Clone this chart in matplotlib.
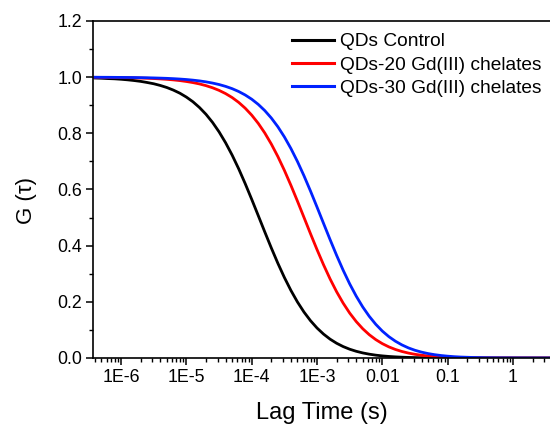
import matplotlib
matplotlib.use("Agg")
import matplotlib.pyplot as plt
from matplotlib.ticker import FixedLocator, LogLocator, NullFormatter, MultipleLocator

plt.rcParams['font.family'] = ['Liberation Sans', 'DejaVu Sans']

# log10 of lag time (s)
log_lag = [-6.4, -6.3, -6.2, -6.1, -6.0, -5.9, -5.8, -5.7, -5.6, -5.5, -5.4, -5.3,
           -5.2, -5.1, -5.0, -4.9, -4.8, -4.7, -4.6, -4.5, -4.4, -4.3, -4.2, -4.1,
           -4.0, -3.9, -3.8, -3.7, -3.6, -3.5, -3.4, -3.3, -3.2, -3.1, -3.0, -2.9,
           -2.8, -2.7, -2.6, -2.5, -2.4, -2.3, -2.2, -2.1, -2.0, -1.9, -1.8, -1.7,
           -1.6, -1.5, -1.4, -1.3, -1.2, -1.1, -1.0, -0.9, -0.8,
           -0.6, -0.4, -0.2, 0.0, 0.2, 0.4, 0.6]
lag_time = [10 ** v for v in log_lag]

g_control = [0.997, 0.9962, 0.995, 0.9941, 0.9925, 0.9905, 0.988, 0.985, 0.981, 0.9765,
             0.9705, 0.9632, 0.954, 0.9429, 0.929, 0.9124, 0.892, 0.8678, 0.839, 0.8053,
             0.7665, 0.7226, 0.674, 0.621, 0.565, 0.5072, 0.449, 0.392, 0.3375, 0.2868,
             0.2407, 0.1996, 0.1637, 0.1329, 0.1068, 0.0851, 0.0671, 0.0525, 0.0407,
             0.0313, 0.0239, 0.0181, 0.0136, 0.0101, 0.0075, 0.0055, 0.0040, 0.0029,
             0.0021, 0.0015, 0.0011, 0.0008, 0.0006, 0.0004, 0.0003, 0.0002, 0.00014,
             0.00007, 0.00004, 0.00002, 0.00001, 0.0, 0.0, 0.0]
g_qd20 = [0.9994, 0.9992, 0.999, 0.9988, 0.9985, 0.9981, 0.9976, 0.9969, 0.9961, 0.9951,
          0.9938, 0.9923, 0.9903, 0.9878, 0.9846, 0.9807, 0.9759, 0.9698, 0.9623, 0.953,
          0.9415, 0.9275, 0.9103, 0.8896, 0.8648, 0.8355, 0.8013, 0.7619, 0.7175, 0.6683,
          0.615, 0.5587, 0.5008, 0.4426, 0.3859, 0.3318, 0.2815, 0.2359, 0.1954, 0.16,
          0.1298, 0.1042, 0.0829, 0.0654, 0.0511, 0.0396, 0.0304, 0.0232, 0.0175, 0.0131,
          0.0098, 0.0072, 0.0053, 0.0039, 0.0028, 0.0020, 0.0015,
          0.00075, 0.00038, 0.00019, 0.0001, 0.00005, 0.00002, 0.00001]
g_qd30 = [0.9997, 0.9996, 0.9995, 0.9993, 0.9991, 0.9989, 0.9987, 0.9983, 0.9979, 0.9973,
          0.9966, 0.9958, 0.9947, 0.9933, 0.9916, 0.9894, 0.9867, 0.9833, 0.979, 0.9738,
          0.9672, 0.9591, 0.949, 0.9366, 0.9215, 0.9031, 0.881, 0.8546, 0.8235, 0.7873,
          0.746, 0.6998, 0.649, 0.5945, 0.5374, 0.4792, 0.4215, 0.3655, 0.3126, 0.264,
          0.2203, 0.1817, 0.1483, 0.1198, 0.0958, 0.076, 0.0598, 0.0466, 0.0359, 0.0275,
          0.0209, 0.0158, 0.0118, 0.0088, 0.0065, 0.0047, 0.0034,
          0.0018, 0.00093, 0.00048, 0.00024, 0.00012, 0.00006, 0.00003]

series_labels = ["QDs Control", "QDs-20 Gd(III) chelates", "QDs-30 Gd(III) chelates"]
series_colors = ["black", "#ff0000", "#0022ff"]

x_tick_vals = [1e-6, 1e-5, 1e-4, 1e-3, 1e-2, 1e-1, 1]
x_tick_labels = ["1E-6", "1E-5", "1E-4", "1E-3", "0.01", "0.1", "1"]
y_tick_vals = [0.0, 0.2, 0.4, 0.6, 0.8, 1.0, 1.2]
y_tick_labels = ["0.0", "0.2", "0.4", "0.6", "0.8", "1.0", "1.2"]

W, H = 550, 424
fig = plt.figure(figsize=(W / 100, H / 100), dpi=100)
L, R, T, B = 93, 550, 21, 358
ax = fig.add_axes([L / W, 1 - B / H, (R - L) / W, (B - T) / H])

for ys, lab, col in zip([g_control, g_qd20, g_qd30], series_labels, series_colors):
    ax.plot(lag_time, ys, color=col, lw=2.0, label=lab, solid_joinstyle='round')

ax.set_xscale('log')
ax.set_xlim(10 ** -6.43, 10 ** 0.567)
ax.set_ylim(0, 1.2)

ax.xaxis.set_major_locator(FixedLocator(x_tick_vals))
ax.set_xticklabels(x_tick_labels)
ax.xaxis.set_minor_locator(LogLocator(base=10, subs=range(2, 10), numticks=20))
ax.xaxis.set_minor_formatter(NullFormatter())
ax.yaxis.set_major_locator(FixedLocator(y_tick_vals))
ax.set_yticklabels(y_tick_labels)
ax.yaxis.set_minor_locator(MultipleLocator(0.1))

ax.tick_params(which='major', direction='out', length=5, width=1.1, labelsize=12.8, pad=3)
ax.tick_params(which='minor', direction='out', length=3, width=1.0)
ax.tick_params(top=False, right=False)

for s in ['left', 'top', 'bottom']:
    ax.spines[s].set_linewidth(1.2)
ax.spines['right'].set_visible(False)

ax.set_xlabel("Lag Time (s)", fontsize=17)
ax.xaxis.set_label_coords(0.5, (B - 402) / (B - T))
ax.xaxis.label.set_va('top')
ax.set_ylabel("G (τ)", fontsize=16)
ax.yaxis.set_label_coords((37 - L) / (R - L), (B - 200) / (B - T))

leg = ax.legend(loc='upper left', bbox_to_anchor=(292 / W, 1 - 33 / H),
                bbox_transform=fig.transFigure, frameon=False, fontsize=13.8,
                handlelength=2.2, handletextpad=0.3, labelspacing=0.3,
                borderpad=0, borderaxespad=0)
for line in leg.get_lines():
    line.set_linewidth(2.2)

fig.savefig("out.png", dpi=100)
